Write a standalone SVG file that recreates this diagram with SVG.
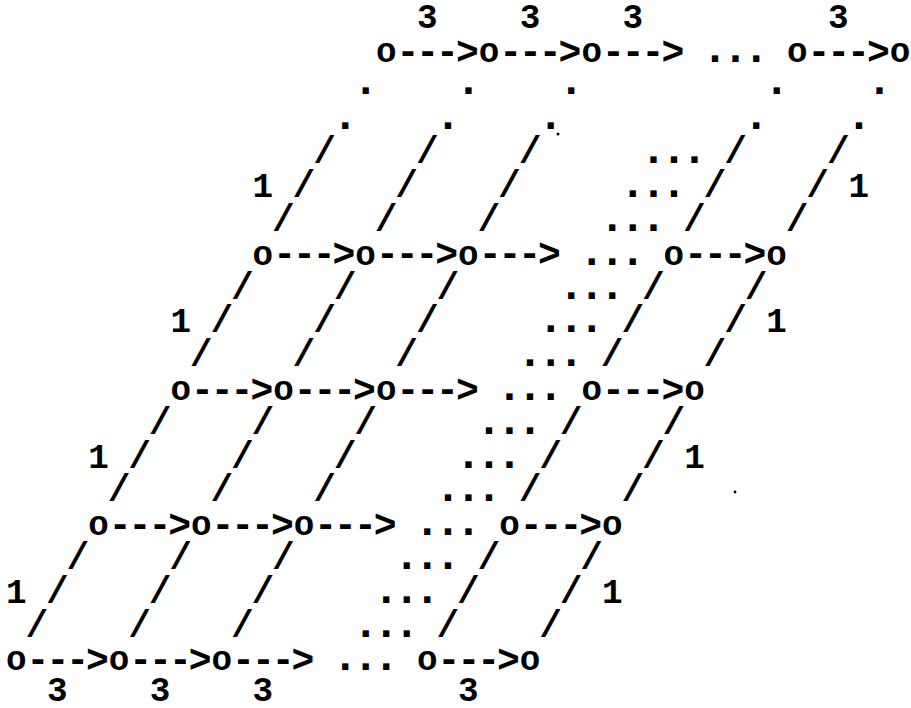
<svg xmlns="http://www.w3.org/2000/svg" width="911" height="708" viewBox="0 0 911 708">
<style>
text { font-family: "Liberation Mono", "Courier New", monospace; font-size: 34.25px; font-weight: bold; fill: #000; text-anchor: middle; }
.ar { font-size: 38px; }
.sl { font-size: 38px; }
.dt { font-size: 44px; }
</style>
<rect x="0" y="0" width="911" height="708" fill="#fff"/>
<g id="nodes">
  <g id="n1_1"><text x="386.2" y="62">o</text></g>
  <g id="n1_2"><text x="488.95" y="62">o</text></g>
  <g id="n1_3"><text x="591.7" y="62">o</text></g>
  <g id="n1_4"><text x="797.2" y="62">o</text></g>
  <g id="n1_5"><text x="899.95" y="62">o</text></g>
  <g id="n2_1"><text x="262.9" y="264.8">o</text></g>
  <g id="n2_2"><text x="365.65" y="264.8">o</text></g>
  <g id="n2_3"><text x="468.4" y="264.8">o</text></g>
  <g id="n2_4"><text x="673.9" y="264.8">o</text></g>
  <g id="n2_5"><text x="776.65" y="264.8">o</text></g>
  <g id="n3_1"><text x="180.7" y="400">o</text></g>
  <g id="n3_2"><text x="283.45" y="400">o</text></g>
  <g id="n3_3"><text x="386.2" y="400">o</text></g>
  <g id="n3_4"><text x="591.7" y="400">o</text></g>
  <g id="n3_5"><text x="694.45" y="400">o</text></g>
  <g id="n4_1"><text x="98.5" y="535.2">o</text></g>
  <g id="n4_2"><text x="201.25" y="535.2">o</text></g>
  <g id="n4_3"><text x="304" y="535.2">o</text></g>
  <g id="n4_4"><text x="509.5" y="535.2">o</text></g>
  <g id="n4_5"><text x="612.25" y="535.2">o</text></g>
  <g id="n5_1"><text x="16.3" y="670.4">o</text></g>
  <g id="n5_2"><text x="119.05" y="670.4">o</text></g>
  <g id="n5_3"><text x="221.8" y="670.4">o</text></g>
  <g id="n5_4"><text x="427.3" y="670.4">o</text></g>
  <g id="n5_5"><text x="530.05" y="670.4">o</text></g>
</g>
<g id="connectors">
  <g class="arrows">
    <text class="ar" x="437.6" y="63.5" textLength="82.2">---&gt;</text><text class="ar" x="540.3" y="63.5" textLength="82.2">---&gt;</text><text class="ar" x="643.1" y="63.5" textLength="82.2">---&gt;</text><text class="ar" x="848.6" y="63.5" textLength="82.2">---&gt;</text>
    <text class="ar" x="314.3" y="266.3" textLength="82.2">---&gt;</text><text class="ar" x="417.0" y="266.3" textLength="82.2">---&gt;</text><text class="ar" x="519.8" y="266.3" textLength="82.2">---&gt;</text><text class="ar" x="725.3" y="266.3" textLength="82.2">---&gt;</text>
    <text class="ar" x="232.1" y="401.5" textLength="82.2">---&gt;</text><text class="ar" x="334.8" y="401.5" textLength="82.2">---&gt;</text><text class="ar" x="437.6" y="401.5" textLength="82.2">---&gt;</text><text class="ar" x="643.1" y="401.5" textLength="82.2">---&gt;</text>
    <text class="ar" x="149.9" y="536.7" textLength="82.2">---&gt;</text><text class="ar" x="252.6" y="536.7" textLength="82.2">---&gt;</text><text class="ar" x="355.4" y="536.7" textLength="82.2">---&gt;</text><text class="ar" x="560.9" y="536.7" textLength="82.2">---&gt;</text>
    <text class="ar" x="67.7" y="671.9" textLength="82.2">---&gt;</text><text class="ar" x="170.4" y="671.9" textLength="82.2">---&gt;</text><text class="ar" x="273.2" y="671.9" textLength="82.2">---&gt;</text><text class="ar" x="478.7" y="671.9" textLength="82.2">---&gt;</text>
  </g>
  <g class="verticals">
    <text class="dt" x="365.65 468.4 571.15 776.65 879.4" y="94">.....</text>
    <text class="dt" x="345.1 447.85 550.6 756.1 858.85" y="128.5">.....</text>
    <text class="sl" x="324.55 427.3 530.05 735.55 838.3" y="163.4">/////</text>
    <text class="sl" x="304 406.75 509.5 715 817.75" y="197.2">/////</text>
    <text class="sl" x="283.45 386.2 488.95 694.45 797.2" y="231">/////</text>
    <text class="sl" x="242.35 345.1 447.85 653.35 756.1" y="298.6">/////</text>
    <text class="sl" x="221.8 324.55 427.3 632.8 735.55" y="332.4">/////</text>
    <text class="sl" x="201.25 304 406.75 612.25 715" y="366.2">/////</text>
    <text class="sl" x="160.15 262.9 365.65 571.15 673.9" y="433.8">/////</text>
    <text class="sl" x="139.6 242.35 345.1 550.6 653.35" y="467.6">/////</text>
    <text class="sl" x="119.05 221.8 324.55 530.05 632.8" y="501.4">/////</text>
    <text class="sl" x="77.95 180.7 283.45 488.95 591.7" y="569">/////</text>
    <text class="sl" x="57.4 160.15 262.9 468.4 571.15" y="602.8">/////</text>
    <text class="sl" x="36.85 139.6 242.35 447.85 550.6" y="636.6">/////</text>
  </g>
</g>
<g id="ellipses">
  <text class="dt" x="715 735.55 756.1" y="62">...</text>
  <text class="dt" x="653.35 673.9 694.45" y="163.4">...</text>
  <text class="dt" x="632.8 653.35 673.9" y="197.2">...</text>
  <text class="dt" x="612.25 632.8 653.35" y="231">...</text>
  <text class="dt" x="591.7 612.25 632.8" y="264.8">...</text>
  <text class="dt" x="571.15 591.7 612.25" y="298.6">...</text>
  <text class="dt" x="550.6 571.15 591.7" y="332.4">...</text>
  <text class="dt" x="530.05 550.6 571.15" y="366.2">...</text>
  <text class="dt" x="509.5 530.05 550.6" y="400">...</text>
  <text class="dt" x="488.95 509.5 530.05" y="433.8">...</text>
  <text class="dt" x="468.4 488.95 509.5" y="467.6">...</text>
  <text class="dt" x="447.85 468.4 488.95" y="501.4">...</text>
  <text class="dt" x="427.3 447.85 468.4" y="535.2">...</text>
  <text class="dt" x="406.75 427.3 447.85" y="569">...</text>
  <text class="dt" x="386.2 406.75 427.3" y="602.8">...</text>
  <text class="dt" x="365.65 386.2 406.75" y="636.6">...</text>
  <text class="dt" x="345.1 365.65 386.2" y="670.4">...</text>
</g>
<g id="labels">
  <text x="427.3" y="28.2">3</text><text x="530.05" y="28.2">3</text><text x="632.8" y="28.2">3</text><text x="838.3" y="28.2">3</text>
  <text x="57.4" y="701">3</text><text x="160.15" y="701">3</text><text x="262.9" y="701">3</text><text x="468.4" y="701">3</text>
  <text x="262.9" y="197.2">1</text><text x="858.85" y="197.2">1</text>
  <text x="180.7" y="332.4">1</text><text x="776.65" y="332.4">1</text>
  <text x="98.5" y="467.6">1</text><text x="694.45" y="467.6">1</text>
  <text x="16.3" y="602.8">1</text><text x="612.25" y="602.8">1</text>
</g>
<g id="specks" fill="#000">
  <circle cx="735" cy="492" r="1.4"/>
  <circle cx="558" cy="134" r="1.5"/>
</g>
</svg>
